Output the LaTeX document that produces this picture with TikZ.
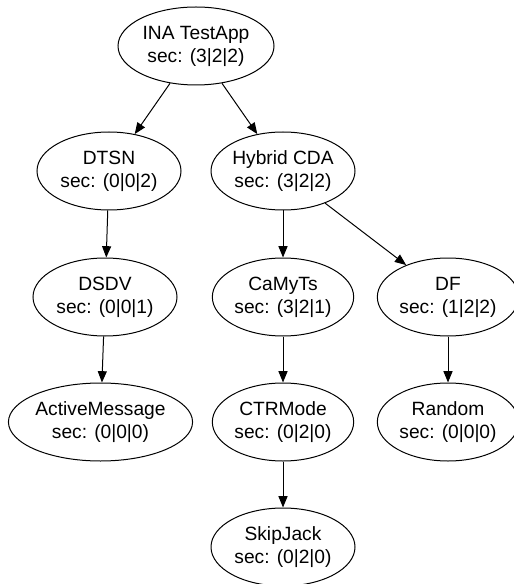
\documentclass[tikz,border=0pt]{standalone}
\usepackage{fontspec}
\setmainfont{Liberation Sans}
\usetikzlibrary{shapes.geometric,arrows.meta}
\begin{document}
\begin{tikzpicture}[x=0.75pt,y=-0.75pt,
  nd/.style={draw, ellipse, line width=0.75pt, inner sep=0pt, minimum height=58.5pt, minimum width=108pt, align=center, font=\fontsize{14.4}{17.25}\selectfont},
  ar/.style={-{Triangle[length=8.5pt,width=6.8pt]}, line width=0.75pt}]
\useasboundingbox (0,0) rectangle (513,584);
\node[nd, minimum width=117pt] (ina) at (196,46) {INA TestApp\\sec: (3|2|2)};
\node[nd] (dtsn) at (109,171) {DTSN\\sec: (0|0|2)};
\node[nd] (hyb) at (283,171) {Hybrid CDA\\sec: (3|2|2)};
\node[nd] (dsdv) at (105,297) {DSDV\\sec: (0|0|1)};
\node[nd, minimum width=106pt] (camyts) at (283,297) {CaMyTs\\sec: (3|2|1)};
\node[nd, minimum width=106pt] (df) at (448,297) {DF\\sec: (1|2|2)};
\node[nd, minimum width=131pt] (am) at (100.5,422) {ActiveMessage\\sec: (0|0|0)};
\node[nd, minimum width=106pt] (ctr) at (283,422) {CTRMode\\sec: (0|2|0)};
\node[nd, minimum width=106pt] (rnd) at (448,422) {Random\\sec: (0|0|0)};
\node[nd] (skip) at (283,547) {SkipJack\\sec: (0|2|0)};
\draw[ar] (ina) -- (dtsn);
\draw[ar] (ina) -- (hyb);
\draw[ar] (dtsn) -- (dsdv);
\draw[ar] (dsdv) -- (am);
\draw[ar] (hyb) -- (camyts);
\draw[ar] (hyb) -- (df);
\draw[ar] (camyts) -- (ctr);
\draw[ar] (df) -- (rnd);
\draw[ar] (ctr) -- (skip);
\end{tikzpicture}
\end{document}
